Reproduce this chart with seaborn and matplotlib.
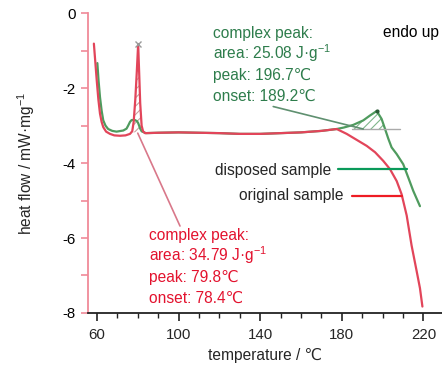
import matplotlib
matplotlib.use('Agg')
import matplotlib.pyplot as plt
import matplotlib.font_manager as fm
import numpy as np
import seaborn as sns

# --- DATA ---
orig_temp = [58.5, 59.2, 59.9, 60.7, 61.5, 62.3, 63.1, 64.5, 66.4, 68.5, 71.3, 74.0,
             76.2, 77.3, 78.0, 78.8, 79.5, 80.2, 80.7, 81.2, 81.9, 82.6, 83.5,
             90, 100, 110, 120, 130, 140, 150, 160, 170, 177.5, 182.4, 187.3,
             192.2, 196.3, 200.3, 203.6, 206.9, 209.3, 211.8, 214.2, 216.7, 218.3, 219.5]
orig_flow = [-0.81, -1.30, -1.79, -2.30, -2.68, -2.90, -3.04, -3.16, -3.22, -3.26, -3.27, -3.26,
             -3.22, -3.15, -2.90, -2.30, -1.60, -0.82, -1.60, -2.40, -3.00, -3.15, -3.20,
             -3.19, -3.18, -3.19, -3.20, -3.22, -3.22, -3.20, -3.18, -3.14, -3.09, -3.22, -3.38,
             -3.54, -3.71, -3.94, -4.16, -4.48, -4.83, -5.40, -6.20, -6.89, -7.34, -7.83]

disp_temp = [60.2, 60.8, 61.5, 62.3, 63.1, 64.2, 65.5, 67.5, 69.6, 72.9, 74.5, 75.3,
             76.2, 77.0, 78.6, 79.6, 80.2, 81.2, 81.9, 84.0,
             90, 100, 110, 120, 130, 140, 150, 160, 170, 177.5, 181.0, 185.6,
             190.5, 193.8, 197.1, 199.5, 201.2, 202.8, 204.4, 206.9, 210.1, 212.6, 215.0, 218.3]
disp_flow = [-1.33, -1.80, -2.24, -2.60, -2.86, -3.00, -3.09, -3.14, -3.16, -3.13, -3.08, -3.00,
             -2.90, -2.85, -2.85, -2.88, -2.93, -3.08, -3.15, -3.20,
             -3.19, -3.18, -3.19, -3.20, -3.22, -3.22, -3.20, -3.18, -3.14, -3.09, -3.05, -2.98,
             -2.86, -2.73, -2.61, -2.82, -3.09, -3.35, -3.58, -3.76, -4.03, -4.39, -4.74, -5.15]

red_peak_range = (77.3, 82.6)      # integration limits, original sample
red_baseline = -3.18
green_peak_range = (184.8, 201.2)  # integration limits, disposed sample
green_baseline = -3.09

green_note = ['complex peak:', 'area: 25.08 J·g$^{-1}$', 'peak: 196.7℃', 'onset: 189.2℃']
red_note = ['complex peak:', 'area: 34.79 J·g$^{-1}$', 'peak: 79.8℃', 'onset: 78.4℃']

# --- COLOURS ---
RED_LINE = '#e2455a'
GREEN_LINE = '#4f9b5e'
RED_TEXT = '#e3122e'
GREEN_TEXT = '#2e7d4c'
PINK_AXIS = '#f08a98'

sns.set_style('white')
names = {f.name for f in fm.fontManager.ttflist}
if 'Liberation Sans Narrow' in names:
    base_font, fs, tfs = 'Liberation Sans Narrow', 13.4, 12.5
else:
    base_font, fs, tfs = 'Liberation Sans', 11.2, 10.8
plt.rcParams['font.family'] = [base_font, 'DejaVu Sans']
plt.rcParams['mathtext.fontset'] = 'custom'
plt.rcParams['mathtext.rm'] = base_font
plt.rcParams['axes.unicode_minus'] = False
plt.rcParams['hatch.linewidth'] = 0.8

fig = plt.figure(figsize=(4.42, 3.69), dpi=100)
ax = fig.add_axes([0.199, 0.152, 0.801, 0.812])

sns.lineplot(x=disp_temp, y=disp_flow, ax=ax, color=GREEN_LINE, lw=1.6, sort=False, estimator=None)
sns.lineplot(x=orig_temp, y=orig_flow, ax=ax, color=RED_LINE, lw=1.6, sort=False, estimator=None)

# hatched peak areas
ot, of = np.array(orig_temp), np.array(orig_flow)
m = (ot >= red_peak_range[0]) & (ot <= red_peak_range[1])
ax.fill_between(ot[m], of[m], red_baseline, facecolor='none', edgecolor='#c9a0a0', hatch='////', lw=0)
dt, df_ = np.array(disp_temp), np.array(disp_flow)
m = (dt >= green_peak_range[0]) & (dt <= green_peak_range[1])
ax.fill_between(dt[m], df_[m], green_baseline, where=df_[m] >= green_baseline,
                facecolor='none', edgecolor='#7fb58a', hatch='////', lw=0)
ax.plot([green_peak_range[0], 208.5], [green_baseline] * 2, color='#aaaaaa', lw=1)
ax.plot([80.2], [-0.82], marker='x', color='#999999', ms=4)
ax.plot([197.1], [-2.61], marker='.', color='#2a5a36', ms=4)

# annotations: one text per line, baselines spaced like the reference
for i, line in enumerate(green_note):
    ax.text(116.9, -0.655 - 0.56 * i, line, color=GREEN_TEXT, fontsize=fs, ha='left', va='baseline')
for i, line in enumerate(red_note):
    ax.text(85.5, -6.06 - 0.56 * i, line, color=RED_TEXT, fontsize=fs, ha='left', va='baseline')
ax.plot([146.4, 190.5], [-2.49, -3.09], color='#5f9070', lw=1.2)
ax.plot([80.0, 100.7], [-3.2, -5.68], color='#d9788a', lw=1.2)
ax.text(200.2, -0.63, 'endo up', fontsize=fs, va='baseline', ha='left', color='black')

# in-plot legend
ax.plot([178.3, 212.1], [-4.16, -4.16], color='#0a9a5a', lw=1.6)
ax.text(175.0, -4.31, 'disposed sample', fontsize=fs, va='baseline', ha='right')
ax.plot([185.1, 209.3], [-4.88, -4.88], color='#ee1c24', lw=1.6)
ax.text(181.0, -4.99, 'original sample', fontsize=fs, va='baseline', ha='right')

# axes styling
ax.set_xlim(55.6, 229.1)
ax.set_ylim(-8, 0)
ax.set_xticks([60, 100, 140, 180, 220])
ax.set_xticks(np.arange(60, 230, 10), minor=True)
ax.set_yticks([0, -2, -4, -6, -8])
ax.set_yticks([-1, -3, -5, -7], minor=True)
for s in ['top', 'right']:
    ax.spines[s].set_visible(False)
ax.spines['left'].set_color(PINK_AXIS)
ax.spines['left'].set_linewidth(1.3)
ax.spines['bottom'].set_color('#222222')
ax.spines['bottom'].set_linewidth(1.3)
ax.tick_params(axis='y', which='both', left=True, direction='out', colors=PINK_AXIS,
               labelcolor='black', labelsize=tfs, length=5, width=1.2, pad=4)
ax.tick_params(axis='x', which='major', bottom=True, direction='out', length=6, width=1.2,
               color='#222222', labelsize=tfs, pad=5)
ax.tick_params(axis='x', which='minor', bottom=True, direction='out', length=3.5, width=1.0,
               color='#222222')
ax.set_xlabel('temperature / ℃', fontsize=fs, labelpad=4)
ax.set_ylabel('heat flow / mW·mg$^{-1}$', fontsize=fs, labelpad=18)

fig.savefig('out.png', dpi=100)
